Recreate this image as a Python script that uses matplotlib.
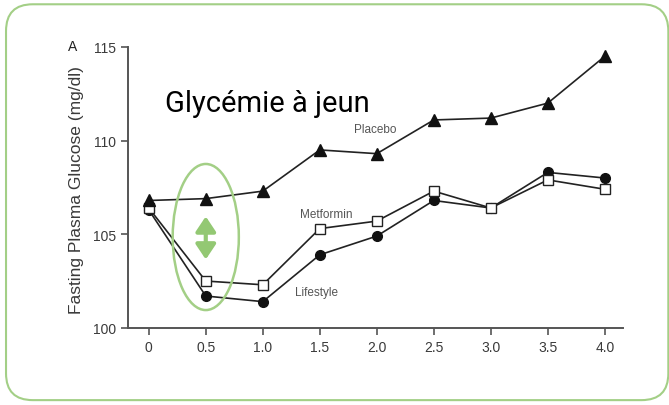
import matplotlib.pyplot as plt
from matplotlib.patches import Ellipse, FancyBboxPatch

# Datos (anos de seguimiento vs glucosa en ayunas)
anos = [0, 0.5, 1.0, 1.5, 2.0, 2.5, 3.0, 3.5, 4.0]
placebo = [106.8, 106.9, 107.3, 109.5, 109.3, 111.1, 111.2, 112.0, 114.5]
metformina = [106.4, 102.5, 102.3, 105.3, 105.7, 107.3, 106.4, 107.9, 107.4]
estilo_vida = [106.3, 101.7, 101.4, 103.9, 104.9, 106.8, 106.4, 108.3, 108.0]
etiquetas_x = ["0", "0.5", "1.0", "1.5", "2.0", "2.5", "3.0", "3.5", "4.0"]
ticks_y = [100, 105, 110, 115]

verde = "#a3cf86"
gris = "#3a3a3a"

fig = plt.figure(figsize=(6.69, 4.06), dpi=100)
fig.patch.set_facecolor("white")

# Marco redondeado verde
marco = FancyBboxPatch((0.009, 0.012), 0.99, 0.975, boxstyle="round,pad=0,rounding_size=0.04",
                       transform=fig.transFigure, facecolor="none", edgecolor=verde,
                       linewidth=1.5, mutation_aspect=669 / 406, zorder=-1)
fig.patches.append(marco)

ax = fig.add_axes([0.191, 0.19, 0.74, 0.692])
ax.patch.set_alpha(0)
ax.set_xlim(-0.184, 4.158)
ax.set_ylim(100, 115)

ax.plot(anos, estilo_vida, color="#222222", lw=1.2, marker="o", ms=7,
        mfc="#111111", mec="#111111", zorder=3)
ax.plot(anos, metformina, color="#222222", lw=1.2, marker="s", ms=7.5,
        mfc="white", mec="#222222", mew=1.0, zorder=4)
ax.plot(anos, placebo, color="#222222", lw=1.2, marker="^", ms=8,
        mfc="#111111", mec="#111111", zorder=5)

for s in ["top", "right"]:
    ax.spines[s].set_visible(False)
for s in ["left", "bottom"]:
    ax.spines[s].set_color("#555555")
    ax.spines[s].set_linewidth(1.4)

ax.set_xticks(anos)
ax.set_xticklabels(etiquetas_x)
ax.set_yticks(ticks_y)
ax.tick_params(axis="both", colors="#555555", labelcolor=gris, length=5, width=1.2,
               labelsize=10)
for lab in ax.get_xticklabels() + ax.get_yticklabels():
    lab.set_family("Liberation Sans")

ax.set_ylabel("Fasting Plasma Glucose (mg/dl)", fontsize=12.5, color=gris,
              family="Liberation Sans")
ax.yaxis.set_label_coords(-0.088, 0.495)

# Etiquetas de las series
ax.text(1.8, 110.6, "Placebo", fontsize=8.5, color="#555555", family="Liberation Sans",
        ha="left", va="center")
ax.text(1.33, 106.1, "Metformin", fontsize=8.5, color="#555555", family="Liberation Sans",
        ha="left", va="center")
ax.text(1.28, 101.9, "Lifestyle", fontsize=8.5, color="#555555", family="Liberation Sans",
        ha="left", va="center")

fig.text(0.108, 0.884, "A", fontsize=10, color="#222222", family="Liberation Sans",
         ha="center", va="center")

ax.text(0.14, 112.0, "Glycémie à jeun", fontsize=21, color="black", family="Roboto",
        ha="left", va="center")

# Ellipse et fleche verte
ax.add_patch(Ellipse((0.5, 104.85), 0.58, 7.8, fill=False, edgecolor=verde, lw=1.8,
                     zorder=6))
ax.annotate("", xy=(0.5, 105.95), xytext=(0.5, 103.65),
            arrowprops=dict(arrowstyle="<|-|>,head_length=0.75,head_width=0.5",
                            color="#93c873", lw=3, mutation_scale=12,
                            shrinkA=0, shrinkB=0), zorder=6)

fig.savefig("out.png", dpi=100, facecolor="white")
